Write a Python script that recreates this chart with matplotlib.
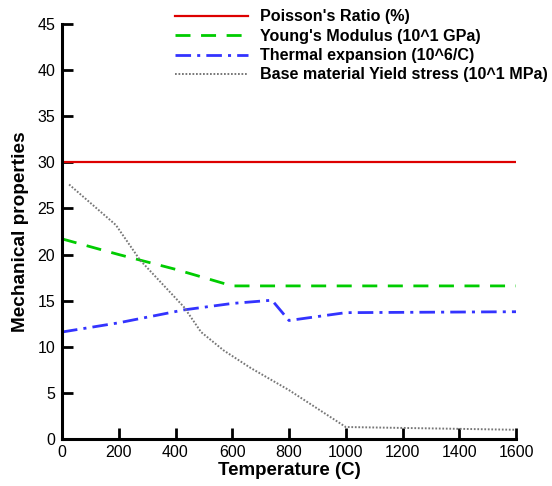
import numpy as np
import matplotlib
matplotlib.use('Agg')
import matplotlib.pyplot as plt

plt.rcParams['font.family'] = ['Liberation Sans', 'DejaVu Sans']

# data
temp_poisson = [0, 1600]
poisson = [30.0, 30.0]

temp_young = [0, 200, 400, 600, 1600]
young = [21.7, 20.0, 18.4, 16.6, 16.6]

temp_thermal = [0, 200, 430, 600, 740, 800, 1000, 1600]
thermal = [11.6, 12.6, 14.0, 14.7, 15.05, 12.85, 13.7, 13.8]

temp_yield = [25, 190, 275, 430, 490, 570, 665, 800, 1000, 1200, 1400, 1600]
yield_stress = [27.6, 23.2, 19.4, 14.3, 11.6, 9.6, 7.7, 5.3, 1.3, 1.2, 1.1, 1.0]

fig = plt.figure(figsize=(5.52, 4.86), dpi=100)
ax = fig.add_axes([62 / 552, 47 / 486, 454 / 552, 415 / 486])

ax.plot(temp_poisson, poisson, color='#dd0000', lw=1.6, label="Poisson's Ratio (%)")
ax.plot(temp_young, young, color='#00cc00', lw=2, dashes=(5.4, 3.8),
        label="Young's Modulus (10^1 GPa)")
ax.plot(temp_thermal, thermal, color='#3333ff', lw=2, dashes=(5.6, 2.2, 1.1, 2.2),
        label='Thermal expansion (10^6/C)')
ax.plot(temp_yield, yield_stress, color='#777777', lw=1.4, dashes=(0.9, 0.9),
        label='Base material Yield stress (10^1 MPa)')

ax.set_xlim(0, 1600)
ax.set_ylim(0, 45)
ax.set_xticks(range(0, 1601, 200))
ax.set_yticks(range(0, 46, 5))
ax.spines['top'].set_visible(False)
ax.spines['right'].set_visible(False)
for s in ['left', 'bottom']:
    ax.spines[s].set_linewidth(2.2)
ax.tick_params(direction='in', length=8, width=2, labelsize=11.5)
ax.tick_params(axis='y', pad=5)
ax.tick_params(axis='x', pad=4.5)

ax.set_xlabel('Temperature (C)', fontsize=13.5, fontweight='bold', labelpad=1)
ax.set_ylabel('Mechanical properties', fontsize=13.7, fontweight='bold', labelpad=6)

leg = fig.legend(loc='upper right', bbox_to_anchor=(554.5 / 552, 1 - 3.0 / 486),
                 borderaxespad=0, frameon=False,
                 prop={'weight': 'bold', 'size': 11.6}, handlelength=4.53,
                 labelspacing=0.27, handletextpad=0.75)

fig.savefig('out.png', dpi=100)
